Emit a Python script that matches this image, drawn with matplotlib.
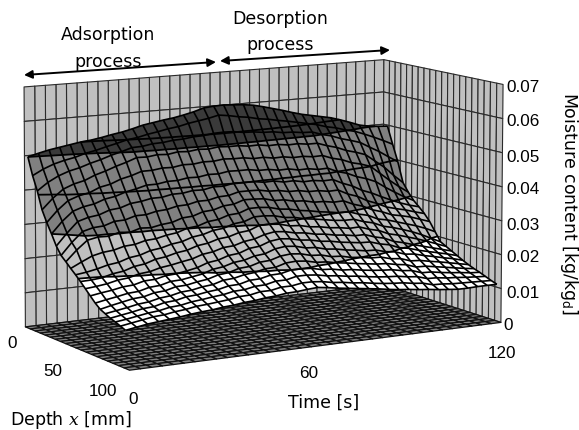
#!/usr/bin/env python3
"""Moisture content surface, adsorption then desorption, Excel style 3D chart."""

import numpy as np
import matplotlib
matplotlib.use("Agg")
import matplotlib.pyplot as plt
from matplotlib.patches import FancyArrowPatch
from mpl_toolkits.mplot3d import art3d

plt.rcParams["font.family"] = ["DejaVu Sans"]
plt.rcParams["mathtext.fontset"] = "dejavuserif"

time_s = np.linspace(0, 120, 37)
depth_mm = np.linspace(0, 100, 21)
moisture_ticks = [0, 0.01, 0.02, 0.03, 0.04, 0.05, 0.06, 0.07]
moisture_labels = ["0", "0.01", "0.02", "0.03", "0.04", "0.05", "0.06", "0.07"]
time_labels = ["0", "60", "120"]
depth_labels = ["0", "50", "100"]

# moisture in g/kg, one row per depth step, one column per time step
moisture_gkg = [
    [50.0, 50.8, 51.5, 52.0, 52.5, 53.0, 53.3, 53.8, 54.4, 54.9, 55.6, 56.4, 56.9, 57.4, 57.8, 58.4, 59.1, 60.0, 60.3, 60.4, 60.2, 60.0, 59.6, 58.9, 58.1, 57.3, 56.4, 55.6, 55.0, 54.4, 53.8, 52.9, 51.9, 50.8, 50.2, 49.9, 49.7],
    [45.0, 46.6, 47.8, 48.6, 49.2, 50.1, 50.7, 51.5, 52.2, 53.0, 53.4, 54.1, 54.6, 55.2, 55.6, 56.3, 56.8, 57.3, 58.0, 57.6, 57.0, 56.6, 55.9, 55.5, 54.9, 54.4, 53.8, 53.2, 52.6, 51.7, 51.1, 50.2, 49.5, 48.4, 47.2, 45.9, 44.5],
    [41.0, 43.2, 44.8, 45.9, 46.6, 47.6, 48.4, 49.4, 50.2, 51.1, 51.2, 51.7, 51.8, 52.2, 52.3, 52.7, 52.8, 53.2, 53.3, 53.2, 52.7, 52.6, 52.2, 52.1, 51.6, 51.5, 51.1, 51.0, 50.0, 49.3, 48.2, 47.4, 46.5, 44.8, 43.2, 41.3, 39.5],
    [36.0, 39.0, 41.4, 42.6, 43.3, 44.6, 45.5, 46.6, 47.5, 48.6, 48.5, 48.9, 48.7, 49.2, 49.0, 49.4, 49.2, 49.6, 49.4, 49.4, 49.0, 49.1, 48.6, 48.7, 48.3, 48.4, 48.0, 48.0, 47.0, 46.2, 45.0, 44.2, 43.2, 41.0, 38.8, 36.0, 33.5],
    [32.8, 36.0, 38.5, 39.6, 40.2, 41.5, 42.1, 43.3, 44.0, 45.0, 45.0, 45.4, 45.3, 45.8, 45.7, 46.1, 46.0, 46.4, 46.2, 46.2, 45.7, 45.8, 45.3, 45.4, 44.9, 45.0, 44.6, 44.7, 43.6, 42.9, 41.7, 41.0, 40.0, 37.6, 35.2, 33.0, 31.0],
    [30.0, 33.3, 35.9, 36.9, 37.4, 38.5, 39.0, 40.0, 40.6, 41.4, 41.4, 41.9, 41.9, 42.4, 42.3, 42.8, 42.7, 43.2, 43.1, 43.1, 42.6, 42.6, 42.1, 42.2, 41.6, 41.7, 41.2, 41.3, 40.0, 39.2, 37.9, 37.0, 35.8, 33.8, 32.0, 30.3, 28.9],
    [27.0, 30.4, 33.4, 34.3, 34.7, 35.8, 36.1, 37.1, 37.4, 38.0, 38.0, 38.6, 38.6, 39.1, 39.0, 39.6, 39.5, 40.1, 40.0, 40.0, 39.5, 39.6, 39.0, 39.1, 38.5, 38.6, 38.2, 38.3, 36.9, 35.8, 34.2, 33.1, 31.7, 30.4, 29.2, 28.2, 27.4],
    [24.8, 28.2, 31.0, 31.8, 32.0, 33.0, 33.1, 34.0, 34.0, 34.7, 34.9, 35.6, 35.7, 36.4, 36.4, 37.1, 37.2, 38.0, 38.0, 37.9, 37.3, 37.2, 36.6, 36.6, 36.0, 36.0, 35.5, 35.6, 34.1, 33.1, 31.5, 30.4, 29.0, 28.2, 27.5, 26.6, 25.8],
    [23.5, 26.5, 29.0, 29.6, 29.5, 30.3, 30.0, 30.9, 30.7, 31.3, 31.6, 32.6, 32.8, 33.8, 34.0, 34.9, 35.1, 36.1, 36.0, 35.8, 35.0, 34.9, 34.2, 34.0, 33.3, 33.2, 32.7, 32.8, 31.5, 30.6, 29.2, 28.3, 27.1, 26.5, 25.8, 24.8, 23.8],
    [22.1, 23.6, 25.0, 25.7, 26.0, 26.8, 27.0, 27.8, 28.0, 28.7, 29.1, 30.1, 30.4, 31.4, 31.7, 32.7, 32.9, 34.0, 34.0, 33.7, 32.9, 32.6, 31.9, 31.5, 30.9, 30.5, 30.0, 30.0, 29.0, 28.3, 26.9, 26.3, 25.4, 24.5, 23.6, 22.5, 21.2],
    [20.8, 21.2, 21.8, 22.6, 23.0, 24.0, 24.4, 25.4, 25.8, 26.6, 27.0, 28.0, 28.4, 29.3, 29.6, 30.6, 30.9, 32.0, 32.0, 31.7, 30.9, 30.6, 29.9, 29.5, 29.0, 28.5, 28.2, 28.2, 27.2, 26.5, 25.2, 24.5, 23.6, 22.6, 21.4, 20.0, 18.6],
    [19.4, 19.5, 19.8, 20.6, 21.0, 22.0, 22.4, 23.4, 23.8, 24.6, 25.0, 26.0, 26.4, 27.3, 27.6, 28.5, 28.8, 30.0, 30.0, 29.7, 28.9, 28.7, 28.0, 27.7, 27.1, 26.8, 26.3, 26.4, 25.4, 24.7, 23.4, 22.7, 21.8, 20.9, 19.9, 18.8, 17.7],
    [17.9, 18.2, 18.6, 19.3, 19.6, 20.4, 20.7, 21.5, 21.9, 22.5, 23.0, 24.0, 24.4, 25.3, 25.5, 26.4, 26.8, 27.8, 28.3, 28.0, 27.3, 27.0, 26.3, 26.0, 25.4, 25.1, 24.6, 24.6, 23.6, 22.9, 21.6, 20.9, 20.0, 19.2, 18.4, 17.6, 16.8],
    [16.4, 16.9, 17.3, 17.9, 18.1, 18.9, 19.0, 19.7, 19.9, 20.4, 21.0, 22.1, 22.5, 23.5, 23.8, 24.9, 25.2, 26.3, 26.7, 26.4, 25.7, 25.4, 24.7, 24.4, 23.8, 23.4, 23.0, 22.9, 22.0, 21.4, 20.2, 19.7, 18.8, 18.1, 17.4, 16.7, 15.9],
    [14.9, 15.5, 16.0, 16.6, 16.8, 17.6, 17.8, 18.6, 18.7, 19.2, 19.7, 20.7, 21.1, 22.0, 22.3, 23.2, 23.5, 24.6, 25.0, 24.7, 23.9, 23.7, 22.9, 22.6, 22.0, 21.6, 21.1, 21.0, 20.2, 19.8, 18.8, 18.5, 17.7, 17.1, 16.4, 15.8, 15.0],
    [13.7, 14.4, 15.0, 15.6, 15.8, 16.6, 16.8, 17.6, 17.7, 18.3, 18.7, 19.6, 19.9, 20.8, 21.0, 21.9, 22.1, 23.0, 23.3, 23.0, 22.2, 22.0, 21.2, 21.0, 20.3, 20.0, 19.5, 19.4, 18.6, 18.3, 17.3, 17.1, 16.5, 16.0, 15.4, 14.8, 14.2],
    [13.0, 13.5, 14.0, 14.6, 14.9, 15.6, 15.9, 16.6, 16.8, 17.4, 17.7, 18.6, 18.8, 19.5, 19.8, 20.5, 20.6, 21.5, 21.7, 21.4, 20.7, 20.5, 19.9, 19.5, 19.0, 18.6, 18.2, 18.0, 17.4, 17.0, 16.0, 15.9, 15.4, 14.9, 14.4, 13.9, 13.5],
    [12.3, 12.8, 13.3, 13.9, 14.1, 14.9, 15.1, 15.8, 16.0, 16.5, 16.8, 17.5, 17.6, 18.4, 18.5, 19.2, 19.3, 20.0, 20.0, 19.8, 19.1, 18.9, 18.3, 18.1, 17.6, 17.2, 16.9, 16.7, 16.1, 15.8, 14.8, 14.7, 14.2, 13.8, 13.5, 13.1, 12.9],
    [11.8, 12.2, 12.7, 13.2, 13.5, 14.1, 14.3, 14.9, 15.2, 15.6, 15.9, 16.5, 16.6, 17.2, 17.3, 18.0, 18.0, 18.7, 18.7, 18.4, 17.8, 17.5, 17.0, 16.7, 16.2, 15.8, 15.5, 15.3, 14.8, 14.5, 13.6, 13.5, 13.1, 12.9, 12.6, 12.4, 12.2],
    [11.2, 11.7, 12.2, 12.7, 12.9, 13.4, 13.7, 14.2, 14.4, 14.7, 15.0, 15.5, 15.6, 16.2, 16.2, 16.8, 16.8, 17.3, 17.3, 17.0, 16.4, 16.1, 15.6, 15.3, 14.8, 14.4, 14.1, 13.9, 13.4, 13.1, 12.3, 12.2, 11.9, 11.8, 11.7, 11.6, 11.5],
    [10.6, 11.1, 11.6, 11.9, 12.2, 12.5, 12.9, 13.2, 13.4, 13.8, 14.0, 14.4, 14.6, 15.0, 15.2, 15.6, 15.7, 16.0, 16.2, 15.8, 15.3, 14.9, 14.5, 14.1, 13.7, 13.2, 12.8, 12.5, 12.1, 11.8, 11.4, 11.1, 10.8, 10.8, 10.9, 10.9, 10.9],
]
moisture = np.array(moisture_gkg) / 1000.0

# colour bands of the surface and the lines drawn across it
band_edges = [0.0, 0.02, 0.03, 0.05, 0.08]
band_colors = ["#ffffff", "#c0c0c0", "#808080", "#3a3a3a"]
contour_levels = [0.02, 0.03, 0.04, 0.05, 0.053]

W, H = 579, 430
fig = plt.figure(figsize=(W / 100, H / 100), dpi=100)
ax = fig.add_axes([0, 0, 1, 1], projection="3d", computed_zorder=False)
ax.apply_aspect = lambda position=None: None  # keep the full figure, not a square
ax.set_axis_off()


def build_projection(axes):
    # box corners (time, depth, moisture as 0-1) and where they sit in the picture
    box = np.array([[0, 0, 0], [0, 0, 1], [0, 1, 0], [1, 1, 0], [1, 1, 1], [1, 0, 1], [1, 0, 0]], float)
    pix = np.array([[25, 327], [24, 87], [130, 370], [500.5, 323], [503, 84], [384, 60], [383, 284]], float)
    pix[:, 1] = H - pix[:, 1]
    pts = axes.transData.inverted().transform(pix)
    rows = []
    for (u, v, w), (x, y) in zip(box, pts):
        rows.append([u, v, w, 1, 0, 0, 0, 0, -x * u, -x * v, -x * w, -x])
        rows.append([0, 0, 0, 0, u, v, w, 1, -y * u, -y * v, -y * w, -y])
    p = np.linalg.svd(np.array(rows))[2][-1].reshape(3, 4)
    p = p / p[2, 3]
    # third row is only a depth for sorting, far corner has the largest value
    m = np.array([p[0], p[1], [1.0, -1.0, 0.001, 2.0], p[2]])
    return m @ np.diag([1 / 120, 1 / 100, 1 / 0.07, 1])


proj_matrix = build_projection(ax)
ax.get_proj = lambda: proj_matrix


def clip_poly(poly, level, above):
    out = []
    for i in range(len(poly)):
        a, b = poly[i], poly[(i + 1) % len(poly)]
        in_a = a[2] >= level if above else a[2] <= level
        in_b = b[2] >= level if above else b[2] <= level
        if in_a:
            out.append(a)
        if in_a != in_b:
            f = (level - a[2]) / (b[2] - a[2])
            out.append(a + f * (b - a))
    return out


# walls
Tw, Zw = np.meshgrid(time_s, moisture_ticks)
ax.plot_surface(Tw, np.zeros_like(Tw), Zw, color="#c0c0c0", shade=False, rstride=1, cstride=1,
                edgecolor="#2a2a2a", linewidth=0.8, zorder=1)
Dw, Zw2 = np.meshgrid(depth_mm, moisture_ticks)
ax.plot_surface(np.full_like(Dw, 120.0), Dw, Zw2, color="#c0c0c0", shade=False, rstride=1, cstride=1,
                edgecolor="#2a2a2a", linewidth=0.8, zorder=1)
for xs, ys, zs in [([0, 0], [0, 0], [0, 0.07]), ([0, 120], [0, 0], [0.07, 0.07]),
                   ([120, 120], [0, 100], [0.07, 0.07]), ([120, 120], [100, 100], [0, 0.07]),
                   ([120, 120], [0, 0], [0, 0.07])]:
    ax.plot(xs, ys, zs, color="#808080", linewidth=1.6, zorder=2)

# floor
Tf, Df = np.meshgrid(time_s, depth_mm)
ax.plot_surface(Tf, Df, np.zeros_like(Tf), color="#808080", shade=False, rstride=1, cstride=1,
                edgecolor="#111111", linewidth=0.9, zorder=3)
for t in time_s:
    ax.plot([t, t], [100, 100], [0, -0.0012], color="#222222", linewidth=0.7, zorder=3)
for d in depth_mm:
    ax.plot([0, 0], [d, d], [0, -0.0012], color="#222222", linewidth=0.7, zorder=3)

# surface sits a little inside the walls along depth
Ds = 3.5 + 0.93 * Df
polys, colors = [], []
for i in range(len(depth_mm) - 1):
    for j in range(len(time_s) - 1):
        quad = [np.array([Tf[a, b], Ds[a, b], moisture[a, b]])
                for a, b in [(i, j), (i, j + 1), (i + 1, j + 1), (i + 1, j)]]
        for k, col in enumerate(band_colors):
            part = clip_poly(quad, band_edges[k], True)
            if part:
                part = clip_poly(part, band_edges[k + 1], False)
            if len(part) >= 3:
                polys.append(np.array(part))
                colors.append(col)
surface = art3d.Poly3DCollection(polys, facecolors=colors, edgecolors=colors, linewidths=0.2,
                                 zsort="average", zorder=4)
ax.add_collection3d(surface)
ax.plot_wireframe(Tf, Ds, moisture, rstride=1, cstride=1, color="black", linewidth=1.2, zorder=5)
ax.contour(Tf, Ds, moisture, levels=contour_levels, colors="black", linewidths=1.3, zorder=6)


def px(x, y):
    return x / W, 1 - y / H


# tick labels, placed by pixel next to the box edges
num_font = dict(family="Liberation Sans", fontsize=12.3, ha="center", va="center")
moisture_label_y = [325, 293, 258, 225, 190, 157, 122, 87]
for y, lab in zip(moisture_label_y, moisture_labels):
    fig.text(*px(523 if lab != "0" else 508, y), lab, **num_font)
for pos, lab in zip([(133, 400), (309, 373), (502, 354)], time_labels):
    fig.text(*px(*pos), lab, **num_font)
for pos, lab in zip([(12, 344), (53, 372), (103, 392)], depth_labels):
    fig.text(*px(*pos), lab, **num_font)

txt = dict(fontsize=12.5, ha="center", va="center")
fig.text(*px(108, 35), "Adsorption", **txt)
fig.text(*px(108, 62), "process", **txt)
fig.text(*px(280, 19), "Desorption", **txt)
fig.text(*px(280, 45), "process", **txt)
fig.text(*px(324, 403), "Time [s]", **txt)
fig.text(*px(71, 420), "Depth $x$ [mm]", **txt)
fig.text(*px(569, 204), r"Moisture content [kg/kg$_{\mathsf{d}}$]", rotation=-90, **txt)

for a, b in [((24, 75), (216, 62)), ((220, 61), (390, 50))]:
    fig.add_artist(FancyArrowPatch(px(*a), px(*b), transform=fig.transFigure, arrowstyle="<|-|>",
                                   mutation_scale=12, color="black", linewidth=1.4,
                                   shrinkA=0, shrinkB=0))

fig.savefig("out.png", dpi=100)
